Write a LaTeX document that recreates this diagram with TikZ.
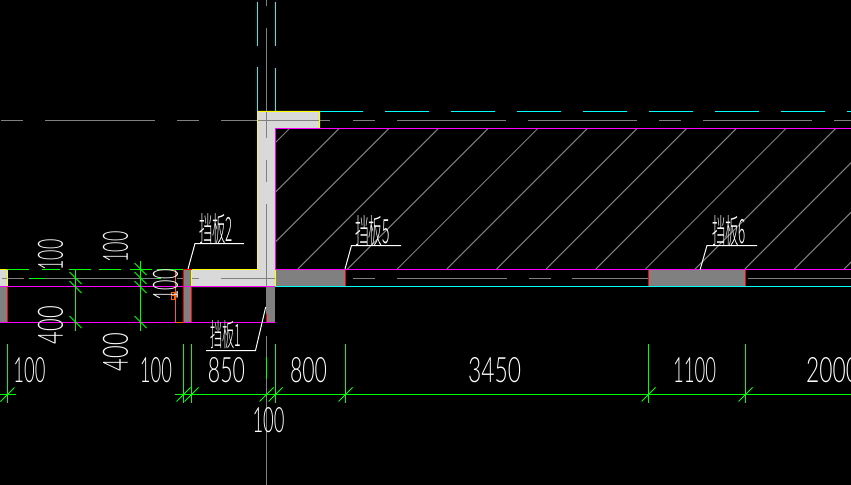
\documentclass[tikz,border=0pt]{standalone}
\usepackage{fontspec}
\usepackage{graphicx}
\newfontfamily\cjk{Noto Sans CJK SC Light}
\newfontfamily\thinf{Lato Light}
\newlength\pxu \setlength\pxu{0.75pt}
\newcommand{\cadt}[3]{\resizebox{#1\pxu}{#2\pxu}{\thinf #3}}
\newcommand{\cadc}[3]{\resizebox{#1\pxu}{#2\pxu}{\cjk #3}}
\definecolor{cadgreen}{RGB}{0,255,0}
\definecolor{cadmag}{RGB}{255,0,255}
\definecolor{cadcyan}{RGB}{0,255,255}
\definecolor{cadyel}{RGB}{255,255,0}
\definecolor{cadred}{RGB}{255,0,0}
\definecolor{cadgray}{RGB}{128,128,128}
\definecolor{cadlight}{RGB}{217,217,217}
\definecolor{cadorange}{RGB}{255,100,0}
\tikzset{
  x=0.75pt,y=-0.75pt,
  lw/.style={line width=0.75pt},
  gl/.style={lw,draw=cadgreen},
  ml/.style={lw,draw=cadmag},
  cl/.style={lw,draw=cadcyan},
  yl/.style={lw,draw=cadyel},
  rl/.style={lw,draw=cadred},
  al/.style={lw,draw=cadgray},
  wl/.style={lw,draw=white},
  ol/.style={lw,draw=cadorange},
  txt/.style={text=white,inner sep=0pt,outer sep=0pt},
}
\newcommand{\tickR}[2]{\draw[gl] (#1-7,#2+7) -- (#1+7,#2-7);}
\newcommand{\tickL}[2]{\draw[gl] (#1-6,#2-6) -- (#1+6,#2+6);}
\begin{document}
\begin{tikzpicture}
\useasboundingbox (0,0) rectangle (851,485);
\fill[black] (0,0) rectangle (851,485);
% fills
\fill[cadlight] (258,111) -- (320,111) -- (320,128) -- (275,128) -- (275,287) -- (191,287) -- (191,269) -- (258,269) -- cycle;
\fill[cadlight] (0,269) rectangle (7.5,287);
\fill[cadgray] (0,287) rectangle (7.5,322);
\fill[cadgray] (183.5,269.5) rectangle (191.5,322);
\fill[cadgray] (266,287) rectangle (275,322);
\fill[cadgray] (275,270) rectangle (345,286);
\fill[cadgray] (648.5,270) rectangle (745.5,286);
% hatch
\begin{scope}
\clip (275.5,128.5) rectangle (851,269);
\foreach \k in {0,...,15}{
  \draw[al] ({290+49.65*\k},128) -- ({290+49.65*\k-141},269);
}
\end{scope}
% horizontal axis, top
\foreach \a/\b in {1/23,45/155,177/199,221/330,353/375,397/506,528/637,659/681,703/812,834/851}{\draw[al] (\a,120.5) -- (\b,120.5);}
% vertical axis
\foreach \a/\b in {0/6,28/138,160/182,204/286.5,336/357,379/485}{\draw[al] (266.5,\a) -- (266.5,\b);}
% horizontal axis, level of the boards
\foreach \a/\b in {2/24,45/157,177/183,192/199,221/275,353/375,397/507,529/551,572/648,748/851}{\draw[al] (\a,278.5) -- (\b,278.5);}
\draw[gl,line width=1pt] (29,278.5) -- (45,278.5);
\draw[gl] (157,278.5) -- (161,278.5);
% cyan
\foreach \a/\b in {2/46,67/111}{\draw[cl] (257.5,\a) -- (257.5,\b);}
\foreach \a/\b in {2/46,68/111}{\draw[cl] (275.5,\a) -- (275.5,\b);}
\foreach \a/\b in {320/363,385/429,451/495,517/561,583/627,649/693,715/759,781/825,847/851}{\draw[cl] (\a,111.5) -- (\b,111.5);}
\draw[cl] (275,286.5) -- (851,286.5);
% yellow
\draw[yl] (257.5,269.5) -- (257.5,111.5) -- (319.5,111.5) -- (319.5,128);
\draw[yl] (191.5,287) -- (191.5,269.5) -- (257.5,269.5);
\draw[yl] (275.5,269) -- (275.5,286);
\draw[yl] (0,269.5) -- (7.5,269.5) -- (7.5,286);
% magenta
\draw[ml] (851,128.5) -- (275.5,128.5) -- (275.5,269.5) -- (851,269.5);
\draw[ml] (0,286.5) -- (275,286.5);
\draw[ml] (0,322.5) -- (275,322.5);
% red
\draw[rl] (7.5,287) -- (7.5,322);
\draw[rl] (191.5,287) -- (191.5,322);
\draw[rl] (183.5,322) -- (183.5,269.5) -- (191.5,269.5);
\draw[rl] (266.5,314) -- (266.5,322);
\draw[rl] (345.5,270) -- (345.5,286);
\draw[rl,line width=1.2pt] (648.5,270) -- (648.5,286);
\draw[rl] (745.5,270) -- (745.5,286);
% orange
\draw[ol] (183,269.5) -- (175.5,269.5) -- (175.5,322.5) -- (183,322.5);
\draw[ol] (171,292.5) rectangle (174.5,295.5);
\draw[ol] (171,295.5) rectangle (174.5,299);
% green: upper dimensions
\foreach \a/\b in {7/29,42/60,69/91,99/121,130/152,157/183}{\draw[gl] (\a,269.5) -- (\b,269.5);}
\draw[gl] (75.5,269) -- (75.5,331);
\draw[gl] (140.5,261) -- (140.5,331);
\tickL{75.5}{278}\tickL{75.5}{287}\tickL{75.5}{322}
\tickL{140.5}{269}\tickL{140.5}{278}\tickL{140.5}{287}\tickL{140.5}{322}
% green: lower dimension
\draw[gl] (0,394.5) -- (16,394.5);
\draw[gl] (175,394.5) -- (851,394.5);
\foreach \p in {7.5,183.5,191.5,275.5,345.5,648.5,745.5}{\draw[gl] (\p,344) -- (\p,403);}
\draw[gl] (266.5,357) -- (266.5,379);
\foreach \p in {7.5,183.5,191.5,266.5,275.5,345.5,648.5,745.5}{\tickR{\p}{394.5}}
% leaders
\draw[wl] (188,269) -- (195,243.5) -- (244,243.5);
\draw[wl] (345,269) -- (351.5,245.5) -- (401,245.5);
\draw[wl] (700,270) -- (707,245.5) -- (757,245.5);
\draw[wl] (206,350.5) -- (255.5,350.5) -- (265.7,307);
% board labels
\node[txt] (b2) at (216,229) {\cadc{34}{28}{挡板2}};
\node[txt] (b5) at (372.5,231) {\cadc{35}{28}{挡板5}};
\node[txt] (b6) at (729,231) {\cadc{34}{28}{挡板6}};
\node[txt] (b1) at (225.5,335) {\cadc{31}{26}{挡板1}};
% dimension labels
\node[txt] (d1) at (29.5,370.5) {\cadt{32}{25}{100}};
\node[txt] (d2) at (156,370.5) {\cadt{32}{25}{100}};
\node[txt] (d3) at (226.5,370.5) {\cadt{37}{25}{850}};
\node[txt] (d4) at (308.5,370.5) {\cadt{37}{25}{800}};
\node[txt] (d5) at (494.5,370.5) {\cadt{53}{25}{3450}};
\node[txt] (d6) at (694.5,370.5) {\cadt{43}{25}{1100}};
\node[txt,anchor=west] (d7) at (806,370.5) {\cadt{53}{25}{2000}};
\node[txt] (d8) at (268.5,420.5) {\cadt{32}{25}{100}};
\node[txt,rotate=90] (d9) at (50.5,255) {\cadt{31}{25}{100}};
\node[txt,rotate=90] (d10) at (115.5,247) {\cadt{31}{25}{100}};
\node[txt,rotate=90] (d11) at (165.5,285) {\cadt{31}{25}{100}};
\node[txt,rotate=90] (d12) at (50.5,325) {\cadt{38}{25}{400}};
\node[txt,rotate=90] (d13) at (115.5,352) {\cadt{38}{25}{400}};
\end{tikzpicture}
\end{document}
